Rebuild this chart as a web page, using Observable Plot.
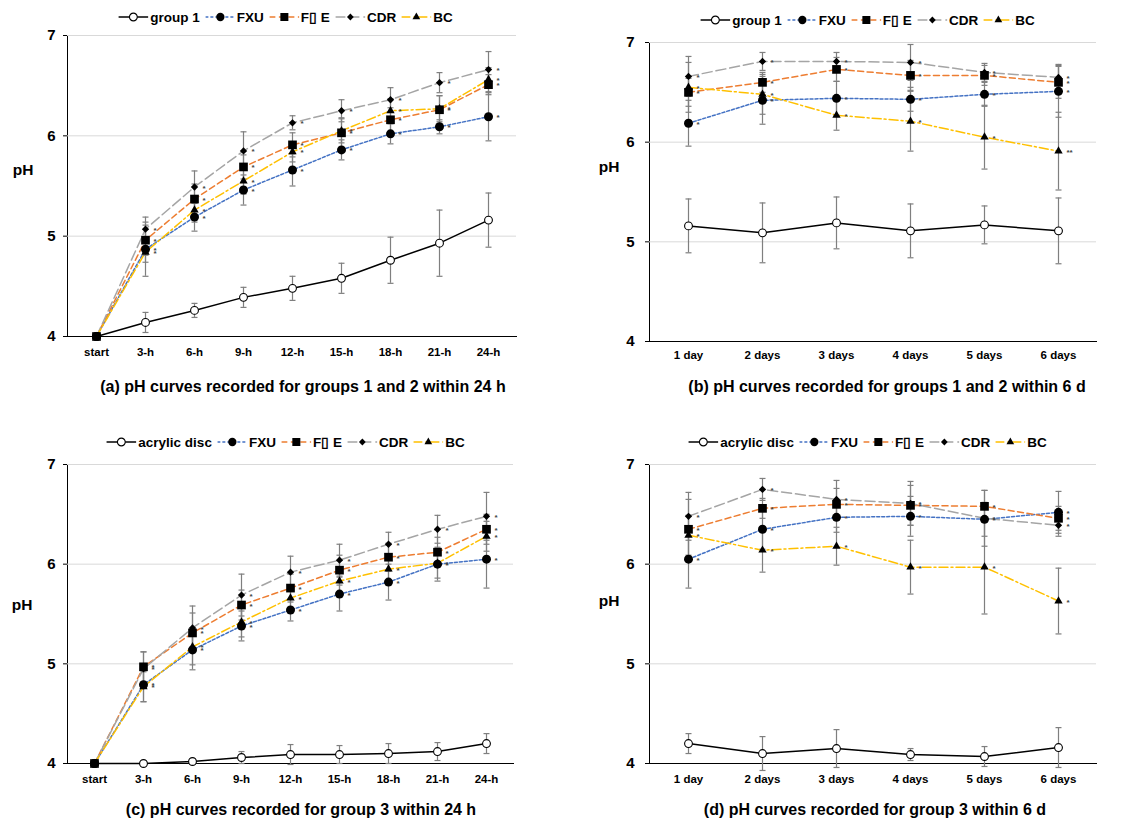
<!DOCTYPE html>
<html><head><meta charset="utf-8">
<script src="https://cdn.jsdelivr.net/npm/d3@7"></script>
<script src="https://cdn.jsdelivr.net/npm/@observablehq/plot@0.6"></script>
<style>
body{margin:0;background:#fff;font-family:"Liberation Sans",Arial,sans-serif;}
#fig{position:relative;width:1139px;height:823px;overflow:hidden;background:#fff;}
.panel{position:absolute;}
.legend{position:absolute;display:flex;align-items:center;transform:translate(-50%,-50%);white-space:nowrap;font-weight:bold;font-size:13.5px;color:#000;}
.legend .item{display:flex;align-items:center;margin-right:5px;}
.legend svg{margin-right:2px;}
.caption{position:absolute;transform:translate(-50%,-50%);white-space:nowrap;font-weight:bold;font-size:16px;color:#000;}
.ylab{position:absolute;transform:translate(-50%,-50%);font-weight:bold;font-size:15.5px;color:#000;}
</style></head><body><div id="fig"></div>
<script>
// ---------- categories & labels ----------
const hours = ["start","3-h","6-h","9-h","12-h","15-h","18-h","21-h","24-h"];
const days = ["1 day","2 days","3 days","4 days","5 days","6 days"];
const namesAB = ["group 1","FXU","F\u25AF E","CDR","BC"];
const namesCD = ["acrylic disc","FXU","F\u25AF E","CDR","BC"];
const yTicks = [4,5,6,7];
const gridTicks = [5,6,7];
const captions = [
  "(a) pH curves recorded for groups 1 and 2 within 24 h",
  "(b) pH curves recorded for groups 1 and 2 within 6 d",
  "(c) pH curves recorded for group 3 within 24 h",
  "(d) pH curves recorded for group 3 within 6 d"
];

// ---------- panel (a) ----------
const aGroup1 = [4.00,4.14,4.26,4.39,4.48,4.58,4.76,4.93,5.16];
const aGroup1Sd = [0.02,0.10,0.07,0.10,0.12,0.15,0.23,0.33,0.27];
const aFXU = [4.00,4.87,5.19,5.46,5.66,5.86,6.02,6.09,6.19];
const aFXUSd = [0,0.27,0.14,0.15,0.16,0.10,0.10,0.07,0.24];
const aFE = [4.00,4.96,5.37,5.69,5.91,6.03,6.16,6.26,6.51];
const aFESd = [0,0.15,0.15,0.12,0.12,0.15,0.12,0.14,0.10];
const aCDR = [4.00,5.07,5.49,5.85,6.13,6.25,6.36,6.53,6.66];
const aCDRSd = [0,0.12,0.16,0.19,0.07,0.11,0.12,0.10,0.18];
const aBC = [4.00,4.84,5.26,5.55,5.84,6.05,6.25,6.27,6.56];
const aBCSd = [0,0.10,0.12,0.13,0.10,0.12,0.12,0.13,0.12];

// ---------- panel (b) ----------
const bGroup1 = [5.16,5.09,5.19,5.11,5.17,5.11];
const bGroup1Sd = [0.27,0.30,0.26,0.27,0.19,0.33];
const bFXU = [6.19,6.42,6.44,6.43,6.48,6.51];
const bFXUSd = [0.23,0.24,0.17,0.12,0.12,0.26];
const bFE = [6.50,6.60,6.73,6.67,6.67,6.60];
const bFESd = [0.14,0.10,0.12,0.15,0.10,0.16];
const bCDR = [6.66,6.81,6.81,6.80,6.70,6.65];
const bCDRSd = [0.20,0.09,0.09,0.18,0.09,0.13];
const bBC = [6.55,6.48,6.27,6.21,6.05,5.91];
const bBCSd = [0.25,0.20,0.15,0.30,0.32,0.39];
const bBCSig = ["*","*","*","*","*","**"];

// ---------- panel (c) ----------
const cAcrylic = [4.00,4.00,4.02,4.06,4.09,4.09,4.10,4.12,4.20];
const cAcrylicSd = [0,0,0.02,0.06,0.10,0.09,0.10,0.09,0.10];
const cFXU = [4.00,4.79,5.14,5.38,5.54,5.70,5.82,6.00,6.05];
const cFXUSd = [0,0.17,0.20,0.15,0.11,0.17,0.18,0.17,0.29];
const cFE = [4.00,4.97,5.31,5.59,5.76,5.94,6.07,6.12,6.35];
const cFESd = [0,0.15,0.20,0.15,0.14,0.15,0.14,0.15,0.15];
const cCDR = [4.00,4.95,5.36,5.69,5.92,6.04,6.20,6.35,6.48];
const cCDRSd = [0,0.17,0.22,0.21,0.16,0.16,0.12,0.14,0.24];
const cBC = [4.00,4.77,5.17,5.42,5.66,5.83,5.95,6.01,6.28];
const cBCSd = [0,0.15,0.18,0.15,0.12,0.14,0.13,0.15,0.15];

// ---------- panel (d) ----------
const dAcrylic = [4.20,4.10,4.15,4.09,4.07,4.16];
const dAcrylicSd = [0.10,0.17,0.19,0.06,0.10,0.20];
const dFXU = [6.05,6.35,6.47,6.48,6.45,6.52];
const dFXUSd = [0.29,0.20,0.15,0.20,0.17,0.21];
const dFE = [6.35,6.56,6.60,6.59,6.58,6.46];
const dFESd = [0.30,0.10,0.16,0.20,0.16,0.12];
const dCDR = [6.48,6.75,6.65,6.61,6.46,6.39];
const dCDRSd = [0.24,0.11,0.19,0.22,0.28,0.11];
const dBC = [6.29,6.14,6.18,5.97,5.97,5.63];
const dBCSd = [0.20,0.22,0.19,0.27,0.47,0.33];

// ---------- styles ----------
const seriesStyles = [
  {stroke:"#000000", dash:null, symbol:"circle", fill:"#ffffff", mstroke:"#000000", r:3.9, sw:1.5},
  {stroke:"#4472C4", dash:"3,2", symbol:"circle", fill:"#000000", mstroke:"none", r:4.5, sw:1.5},
  {stroke:"#ED7D31", dash:"6,3.5", symbol:"square", fill:"#000000", mstroke:"none", r:4.9, sw:1.5},
  {stroke:"#A5A5A5", dash:"10,4", symbol:"diamond2", fill:"#000000", mstroke:"none", r:3.3, sw:1.5},
  {stroke:"#FFC000", dash:"9,3,2,3", symbol:"triangle", fill:"#000000", mstroke:"none", r:3.1, sw:1.5}
];
const capSymbol = {draw(ctx){ ctx.moveTo(-3,0); ctx.lineTo(3,0); }};

const panels = [
  {left:0, top:0, width:570, height:411, ml:67, mr:54, mt:35, mb:75, tpx:11, tpy:8, cats:hours, names:namesAB,
   means:[aGroup1,aFXU,aFE,aCDR,aBC], sds:[aGroup1Sd,aFXUSd,aFESd,aCDRSd,aBCSd], sigs:[null,null,null,null,null],
   legend:[288,17], cap:[303,386.7], ylab:[23,170], caption:captions[0]},
  {left:570, top:0, width:569, height:411, ml:79, mr:43, mt:42, mb:70, tpx:9, tpy:11, cats:days, names:namesAB,
   means:[bGroup1,bFXU,bFE,bCDR,bBC], sds:[bGroup1Sd,bFXUSd,bFESd,bCDRSd,bBCSd], sigs:[null,null,null,null,bBCSig],
   legend:[870,20], cap:[887,386.7], ylab:[609,167], caption:captions[1]},
  {left:0, top:410, width:570, height:413, ml:67, mr:57, mt:54, mb:60, tpx:11, tpy:8, cats:hours, names:namesCD,
   means:[cAcrylic,cFXU,cFE,cCDR,cBC], sds:[cAcrylicSd,cFXUSd,cFESd,cCDRSd,cBCSd], sigs:[null,null,null,null,null],
   legend:[288,442], cap:[301,810], ylab:[22,605], caption:captions[2]},
  {left:570, top:410, width:569, height:413, ml:79, mr:43, mt:54, mb:60, tpx:11, tpy:11, cats:days, names:namesCD,
   means:[dAcrylic,dFXU,dFE,dCDR,dBC], sds:[dAcrylicSd,dFXUSd,dFESd,dCDRSd,dBCSd], sigs:[null,null,null,null,null],
   legend:[870,442], cap:[875,810], ylab:[609,601], caption:captions[3]}
];

const fig = document.getElementById("fig");
const d3Sym = {circle:d3.symbolCircle, square:d3.symbolSquare, triangle:d3.symbolTriangle,
  diamond2: d3.symbolDiamond2 || {draw(c,s){const r=Math.sqrt(s)*0.62625;c.moveTo(0,-r);c.lineTo(r,0);c.lineTo(0,r);c.lineTo(-r,0);c.closePath();}}};

panels.forEach(p => {
  const rows = [];
  p.names.forEach((name, si) => p.cats.forEach((c, ci) => {
    const sig = (si === 0 || c === "start") ? "" : (p.sigs[si] ? p.sigs[si][ci] : "*");
    rows.push({cat:c, s:si, y:p.means[si][ci], sd:p.sds[si][ci], sig});
  }));
  const err = rows.filter(d => d.sd > 0);
  const marks = [Plot.ruleY(gridTicks, {stroke:"#d9d9d9", strokeWidth:1})];
  seriesStyles.forEach((st, si) => {
    marks.push(Plot.line(rows.filter(d => d.s === si), {x:"cat", y:"y", stroke:st.stroke, strokeWidth:st.sw, strokeDasharray:st.dash || undefined}));
  });
  marks.push(Plot.ruleX(err, {x:"cat", y1:d => d.y - d.sd, y2:d => d.y + d.sd, stroke:"#7f7f7f", strokeWidth:1.2}));
  marks.push(Plot.dot(err, {x:"cat", y:d => d.y + d.sd, symbol:capSymbol, stroke:"#7f7f7f", strokeWidth:1.2, r:3}));
  marks.push(Plot.dot(err, {x:"cat", y:d => d.y - d.sd, symbol:capSymbol, stroke:"#7f7f7f", strokeWidth:1.2, r:3}));
  seriesStyles.forEach((st, si) => {
    marks.push(Plot.dot(rows.filter(d => d.s === si), {x:"cat", y:"y", symbol:st.symbol, r:st.r, fill:st.fill, stroke:st.mstroke, strokeWidth:1.1}));
  });
  marks.push(Plot.text(rows.filter(d => d.sig), {x:"cat", y:"y", text:"sig", dx:8, dy:1, textAnchor:"start", fontSize:8, fill:"#444"}));

  const svg = Plot.plot({
    width:p.width, height:p.height,
    marginTop:p.mt, marginBottom:p.mb, marginLeft:p.ml, marginRight:p.mr,
    style:{fontFamily:"Liberation Sans, Arial, sans-serif", fontWeight:"bold", fontSize:"13.5px", color:"#000", background:"transparent", overflow:"visible"},
    x:{type:"point", domain:p.cats, padding:0.5, line:true, tickSize:0, tickPadding:p.tpx, label:null},
    y:{domain:[4,7], ticks:yTicks, tickFormat:d => String(d), line:true, tickSize:4, tickPadding:p.tpy, label:null},
    marks
  });
  d3.select(svg).selectAll('g[aria-label^="x-axis"] text').style("font-size","11.5px");
  d3.select(svg).selectAll('g[aria-label^="y-axis"] text').style("font-size","15px");
  const div = document.createElement("div");
  div.className = "panel";
  div.style.left = p.left + "px"; div.style.top = p.top + "px";
  div.appendChild(svg);
  fig.appendChild(div);

  // legend
  const leg = document.createElement("div");
  leg.className = "legend";
  leg.style.left = p.legend[0] + "px"; leg.style.top = p.legend[1] + "px";
  p.names.forEach((name, si) => {
    const st = seriesStyles[si];
    const item = document.createElement("div");
    item.className = "item";
    const s = d3.create("svg").attr("width", 30).attr("height", 14);
    s.append("line").attr("x1", 0).attr("x2", 30).attr("y1", 7).attr("y2", 7)
      .attr("stroke", st.stroke).attr("stroke-width", 1.5).attr("stroke-dasharray", st.dash);
    s.append("path").attr("transform", "translate(15,7)")
      .attr("d", d3.symbol(d3Sym[st.symbol], Math.PI * st.r * st.r * (si === 0 ? 1 : 0.85))())
      .attr("fill", st.fill).attr("stroke", st.mstroke).attr("stroke-width", 1.1);
    item.appendChild(s.node());
    const t = document.createElement("span");
    t.textContent = name;
    item.appendChild(t);
    leg.appendChild(item);
  });
  fig.appendChild(leg);

  const cap = document.createElement("div");
  cap.className = "caption";
  cap.style.left = p.cap[0] + "px"; cap.style.top = p.cap[1] + "px";
  cap.textContent = p.caption;
  fig.appendChild(cap);

  const yl = document.createElement("div");
  yl.className = "ylab";
  yl.style.left = p.ylab[0] + "px"; yl.style.top = p.ylab[1] + "px";
  yl.textContent = "pH";
  fig.appendChild(yl);
});
</script></body></html>
